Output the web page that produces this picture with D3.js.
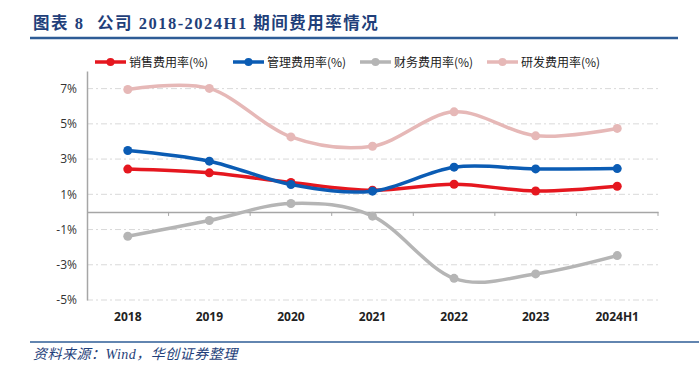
<!DOCTYPE html>
<html>
<head>
<meta charset="utf-8">
<script src="https://cdn.jsdelivr.net/npm/d3@7"></script>
<style>
body { margin: 0; background: #fff; }
</style>
</head>
<body>
<script>
var width = 699;
var height = 371;

var years = ["2018", "2019", "2020", "2021", "2022", "2023", "2024H1"];
var xiaoshou = [2.43, 2.22, 1.67, 1.23, 1.57, 1.19, 1.46];
var guanli = [3.49, 2.88, 1.56, 1.18, 2.54, 2.44, 2.46];
var caiwu = [-1.38, -0.49, 0.48, -0.24, -3.77, -3.52, -2.48];
var yanfa = [6.95, 7.01, 4.26, 3.73, 5.68, 4.32, 4.74];
var yTicks = [-5, -3, -1, 1, 3, 5, 7];

var serie = [
  {nome: "销售费用率(%)", valori: xiaoshou, colore: "#e5171f"},
  {nome: "管理费用率(%)", valori: guanli, colore: "#0b5cb4"},
  {nome: "财务费用率(%)", valori: caiwu, colore: "#b5b5b5"},
  {nome: "研发费用率(%)", valori: yanfa, colore: "#e6b8b7"}
];

var svg = d3.select("body").append("svg")
  .attr("width", width)
  .attr("height", height);

// titolo
var titolo = svg.append("text")
  .attr("x", 33).attr("y", 29)
  .attr("fill", "#1f3f7a")
  .attr("font-family", "'Liberation Serif', 'Noto Sans CJK SC'")
  .attr("font-weight", "bold")
  .attr("font-size", 16.5)
  .style("white-space", "pre");
titolo.append("tspan").attr("letter-spacing", 1.5).text("图表 8");
titolo.append("tspan").attr("x", 97).attr("letter-spacing", 1.5).text("公司 2018-2024H1 期间费用率情况");

svg.append("line")
  .attr("x1", 30).attr("x2", 678)
  .attr("y1", 38).attr("y2", 38)
  .attr("stroke", "#2e5c96").attr("stroke-width", 2.5);

svg.append("line")
  .attr("x1", 30).attr("x2", 699)
  .attr("y1", 342).attr("y2", 342)
  .attr("stroke", "#2e5c96").attr("stroke-width", 1.5);

svg.append("text")
  .attr("x", 33).attr("y", 359)
  .attr("fill", "#1f3f7a")
  .attr("font-family", "'Liberation Serif', 'Noto Sans CJK SC'")
  .attr("font-style", "italic")
  .attr("font-size", 14)
  .attr("letter-spacing", 0.5)
  .text("资料来源：Wind，华创证券整理");

var x = d3.scaleBand().domain(years).range([87, 658]);
var y = d3.scaleLinear().domain([-5, 8]).range([300, 71]);

// griglia
svg.append("g").selectAll("line")
  .data(yTicks)
  .enter().append("line")
  .attr("x1", 87).attr("x2", 658)
  .attr("y1", function(d) { return y(d); })
  .attr("y2", function(d) { return y(d); })
  .attr("stroke", "#d9d9d9")
  .attr("stroke-width", 1)
  .attr("stroke-dasharray", "6,3,2,3");

// asse y
var assey = svg.append("g")
  .attr("transform", "translate(87,0)")
  .call(d3.axisLeft(y).tickValues(yTicks).tickSize(0).tickPadding(10)
    .tickFormat(function(d) { return d + "%"; }));
assey.select(".domain").attr("stroke", "#a6a6a6").attr("stroke-width", 1.5);
assey.selectAll("text")
  .attr("font-family", "'Open Sans', 'Noto Sans'")
  .attr("font-size", 12)
  .attr("fill", "#333");

// asse x sullo zero
var assex = svg.append("g")
  .attr("transform", "translate(0," + y(0) + ")")
  .call(d3.axisBottom(x).tickSize(0).tickFormat(""));
assex.select(".domain").attr("stroke", "#a6a6a6").attr("stroke-width", 1.5);

svg.append("g").selectAll("line")
  .data(years)
  .enter().append("line")
  .attr("x1", function(d) { return x(d) + x.bandwidth(); })
  .attr("x2", function(d) { return x(d) + x.bandwidth(); })
  .attr("y1", y(0)).attr("y2", y(0) + 4)
  .attr("stroke", "#a6a6a6").attr("stroke-width", 1);

svg.append("g").selectAll("text")
  .data(years)
  .enter().append("text")
  .attr("x", function(d) { return x(d) + x.bandwidth() / 2; })
  .attr("y", 321)
  .attr("text-anchor", "middle")
  .attr("font-family", "'Open Sans', 'Noto Sans'")
  .attr("font-weight", "bold")
  .attr("font-size", 12)
  .attr("fill", "#222")
  .text(function(d) { return d; });

// linee
var linea = d3.line()
  .x(function(d, i) { return x(years[i]) + x.bandwidth() / 2; })
  .y(function(d) { return y(d); })
  .curve(d3.curveCatmullRom.alpha(0));

var ordine = [3, 2, 0, 1];
ordine.forEach(function(k) {
  var s = serie[k];
  var g = svg.append("g");
  g.append("path")
    .attr("d", linea(s.valori))
    .attr("fill", "none")
    .attr("stroke", s.colore)
    .attr("stroke-width", 3.5);
  g.selectAll("circle")
    .data(s.valori)
    .enter().append("circle")
    .attr("cx", function(d, i) { return x(years[i]) + x.bandwidth() / 2; })
    .attr("cy", function(d) { return y(d); })
    .attr("r", 4.5)
    .attr("fill", s.colore);
});

// legenda
var legX = [95, 233, 360, 487];
serie.forEach(function(s, i) {
  var g = svg.append("g").attr("transform", "translate(" + legX[i] + ",62)");
  g.append("line")
    .attr("x1", 0).attr("x2", 31)
    .attr("stroke", s.colore).attr("stroke-width", 3.5);
  g.append("circle").attr("cx", 15.5).attr("r", 4).attr("fill", s.colore);
  g.append("text")
    .attr("x", 34).attr("y", 4.5)
    .attr("font-family", "'Noto Sans CJK SC'")
    .attr("font-size", 12)
    .attr("fill", "#222")
    .text(s.nome);
});
</script>
</body>
</html>
